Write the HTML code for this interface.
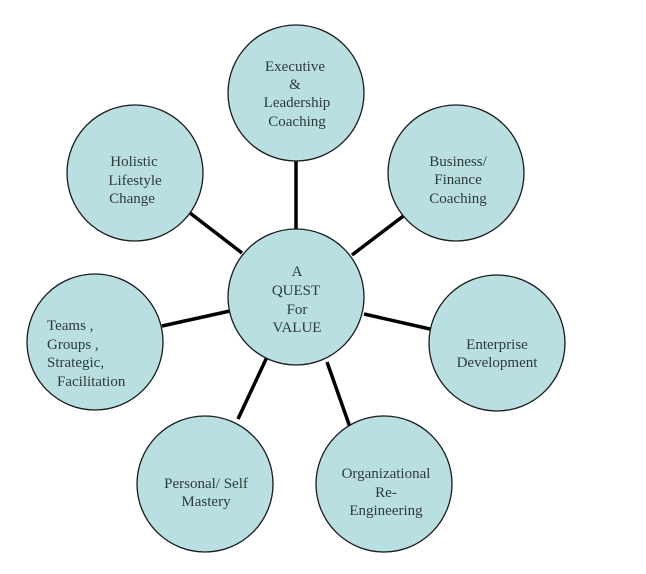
<!DOCTYPE html>
<html><head><meta charset="utf-8"><style>
html,body{margin:0;padding:0;background:#fff;}
svg{display:block}
text{font-family:"Liberation Serif",serif;font-size:15px;fill:#2f3a3a;text-anchor:middle}
</style></head><body>
<svg width="646" height="574" viewBox="0 0 646 574" xmlns="http://www.w3.org/2000/svg">
<g stroke="#000" stroke-width="3.5">
<line x1="296" y1="160" x2="296" y2="230"/>
<line x1="406" y1="214" x2="352" y2="255"/>
<line x1="430" y1="329" x2="364" y2="314"/>
<line x1="357" y1="447" x2="327" y2="362"/>
<line x1="238" y1="419" x2="267" y2="357"/>
<line x1="162" y1="326" x2="230" y2="311"/>
<line x1="190" y1="213" x2="242" y2="253"/>
</g>
<g fill="#b9dfe2" stroke="#1a1a1a" stroke-width="1.3">
<ellipse cx="296" cy="93" rx="68" ry="68"/>
<ellipse cx="456" cy="173" rx="68" ry="68"/>
<ellipse cx="497" cy="343" rx="68" ry="68"/>
<ellipse cx="384" cy="484" rx="68" ry="68"/>
<ellipse cx="205" cy="484" rx="68" ry="68"/>
<ellipse cx="95" cy="342" rx="68" ry="68"/>
<ellipse cx="135" cy="173" rx="68" ry="68"/>
<ellipse cx="296" cy="297" rx="68" ry="68"/>
</g>
<text x="295" y="71">Executive</text>
<text x="295" y="89">&amp;</text>
<text x="297" y="107">Leadership</text>
<text x="297" y="126">Coaching</text>
<text x="458" y="166">Business/</text>
<text x="458" y="184">Finance</text>
<text x="458" y="203">Coaching</text>
<text x="497" y="349">Enterprise</text>
<text x="497" y="367">Development</text>
<text x="386" y="478">Organizational</text>
<text x="386" y="497">Re-</text>
<text x="386" y="515">Engineering</text>
<text x="206" y="488">Personal/ Self</text>
<text x="206" y="506">Mastery</text>
<text x="47" y="330" style="text-anchor:start">Teams ,</text>
<text x="47" y="349" style="text-anchor:start">Groups ,</text>
<text x="47" y="367" style="text-anchor:start">Strategic,</text>
<text x="57" y="386" style="text-anchor:start">Facilitation</text>
<text x="134" y="166">Holistic</text>
<text x="135" y="185">Lifestyle</text>
<text x="132" y="203">Change</text>
<text x="297" y="276">A</text>
<text x="296" y="295">QUEST</text>
<text x="297" y="314">For</text>
<text x="297" y="332">VALUE</text>
</svg>
</body></html>
